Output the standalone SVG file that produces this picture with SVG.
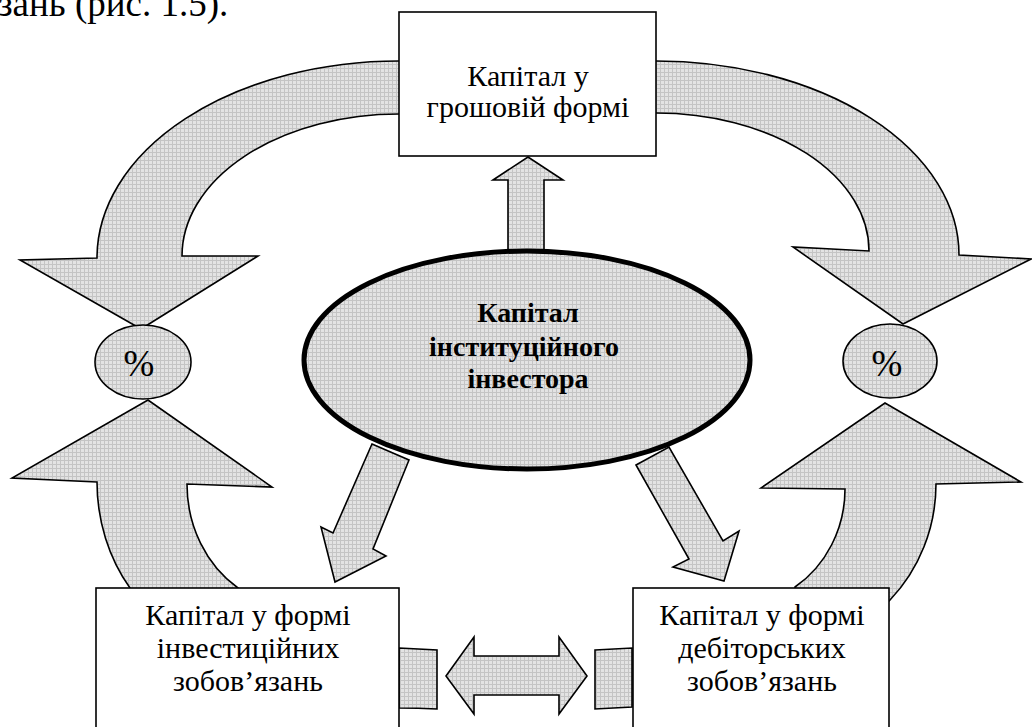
<svg xmlns="http://www.w3.org/2000/svg" width="1032" height="727" viewBox="0 0 1032 727">
<defs>
<pattern id="grid" width="4" height="4" patternUnits="userSpaceOnUse">
<rect width="4" height="4" fill="#e3e3e3"/>
<path d="M0 0.5H4M0.5 0V4" stroke="#c4c4c4" stroke-width="1"/>
</pattern>
<style>
.arrow{fill:url(#grid);stroke:#000;stroke-width:1.6;stroke-linejoin:miter}
.box{fill:#fff;stroke:#000;stroke-width:1.6}
.pct{fill:url(#grid);stroke:#000;stroke-width:1.6}
.main{fill:url(#grid);stroke:#000;stroke-width:5}
.t{font-family:"Liberation Serif","Times New Roman",serif;font-size:30px;fill:#000;text-anchor:middle}
.b{font-weight:bold;font-size:28px}
</style>
</defs>
<rect width="1032" height="727" fill="#fff"/>
<text x="-2" y="16" style="font-family:'Liberation Serif',serif;font-size:37px" fill="#000">зань (рис. 1.5).</text>
<g id="connectors">
<path class="arrow" d="M420,61 L399,61 A302,197 0 0 0 97,258 L20,260 L141,329 L258,256 L182,256 A217,142 0 0 1 399,114 L420,114 Z"/>
<path class="arrow" d="M630,61 L656,61 A303,194 0 0 1 959,255 L1031,259 L903,324 L793,247 L869,251 A213,138 0 0 0 656,113 L630,113 Z"/>
<path class="arrow" d="M97,482 L12,478 L148,400 L272,487 L187,484 A113,124 0 0 0 238,588 L238,600 L130,600 L130,588 A151,170 0 0 1 97,482 Z"/>
<path class="arrow" d="M845,489 L761,488 L885,403 L1021,482 L936,484 A156,164 0 0 1 890,600 L880,610 L795,610 L795,587 A110,117 0 0 0 845,489 Z"/>
<path class="arrow" d="M508,258 L508,180 L493,180 L528,157 L563,180 L544,180 L544,258 Z"/>
<path class="arrow" d="M372,444 L409,460 L373,549 L386,556 L335,582 L321,527 L333,533 Z"/>
<path class="arrow" d="M636,465 L669,447 L723,541 L739,531 L724,581 L673,567 L689,559 Z"/>
<path class="arrow" d="M446,676 L474,637 L474,656 L559,656 L559,637 L587,676 L559,714 L559,695 L474,695 L474,714 Z"/>
<path class="arrow" d="M399,648 Q418,649 437,650 L437,709 Q418,708 399,708 Z"/>
<path class="arrow" d="M595,650 Q613,649 632,648 L632,707 Q613,708 595,709 Z"/>
</g>
<g id="node-money">
<rect class="box" x="399" y="12" width="257" height="144"/>
<text class="t" x="528" y="86">Капітал у</text>
<text class="t" x="528" y="117">грошовій формі</text>
</g>
<g id="node-investor">
<ellipse class="main" cx="527" cy="360" rx="223" ry="109"/>
<text class="t b" x="528" y="322">Капітал</text>
<text class="t b" x="524" y="356">інституційного</text>
<text class="t b" x="528" y="388">інвестора</text>
</g>
<g id="node-pct-left">
<ellipse class="pct" cx="143" cy="362" rx="48" ry="37"/>
<text class="t" x="139" y="376" style="font-size:37px">%</text>
</g>
<g id="node-pct-right">
<ellipse class="pct" cx="890" cy="361" rx="47" ry="37"/>
<text class="t" x="887" y="376" style="font-size:37px">%</text>
</g>
<g id="node-invest">
<rect class="box" x="96" y="588" width="303" height="150"/>
<text class="t" x="248" y="625">Капітал у формі</text>
<text class="t" x="248" y="658">інвестиційних</text>
<text class="t" x="248" y="691">зобов’язань</text>
</g>
<g id="node-debit">
<rect class="box" x="633" y="588" width="256" height="150"/>
<text class="t" x="762" y="625">Капітал у формі</text>
<text class="t" x="762" y="658">дебіторських</text>
<text class="t" x="762" y="691">зобов’язань</text>
</g>
</svg>
